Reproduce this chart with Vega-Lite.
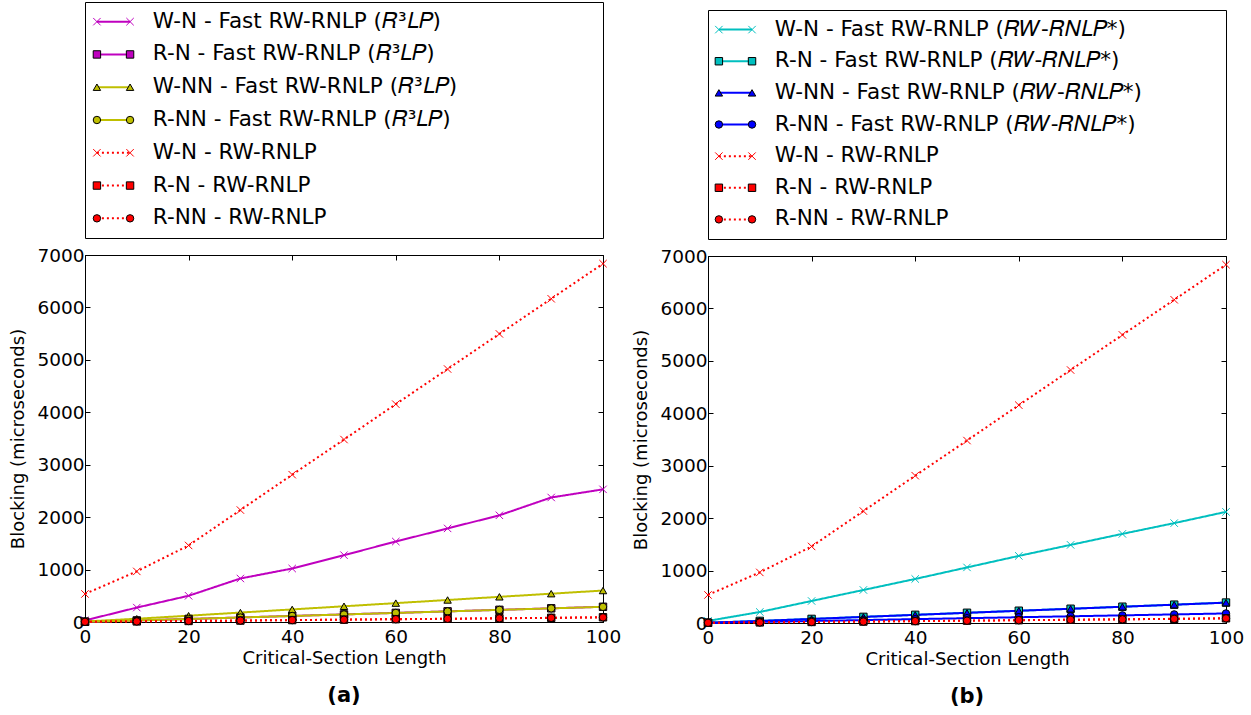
{
"$schema": "https://vega.github.io/schema/vega-lite/v6.json",
"padding": {"left": 9, "top": 1, "right": 0, "bottom": 0},
"config": {
  "font": "DejaVu Sans",
  "view": {"stroke": null},
  "axis": {"grid": false, "labelFont": "DejaVu Sans", "titleFont": "DejaVu Sans", "labelFontSize": 18.5, "titleFontSize": 18, "titleFontWeight": "normal", "labelColor": "#000", "titleColor": "#000", "domainColor": "#000", "tickColor": "#000", "tickSize": -5, "labelPadding": 6, "domainWidth": 1, "tickWidth": 1},
  "axisX": {"labelPadding": 10},
  "title": {"color": "#000", "font": "DejaVu Sans"}
},
"datasets": {
"a": [
{"series":"W-N - Fast RW-RNLP (𝑅³𝐿𝑃)","length":0,"blocking":30},{"series":"W-N - Fast RW-RNLP (𝑅³𝐿𝑃)","length":10,"blocking":275},{"series":"W-N - Fast RW-RNLP (𝑅³𝐿𝑃)","length":20,"blocking":500},{"series":"W-N - Fast RW-RNLP (𝑅³𝐿𝑃)","length":30,"blocking":830},{"series":"W-N - Fast RW-RNLP (𝑅³𝐿𝑃)","length":40,"blocking":1020},{"series":"W-N - Fast RW-RNLP (𝑅³𝐿𝑃)","length":50,"blocking":1275},{"series":"W-N - Fast RW-RNLP (𝑅³𝐿𝑃)","length":60,"blocking":1535},{"series":"W-N - Fast RW-RNLP (𝑅³𝐿𝑃)","length":70,"blocking":1785},{"series":"W-N - Fast RW-RNLP (𝑅³𝐿𝑃)","length":80,"blocking":2035},{"series":"W-N - Fast RW-RNLP (𝑅³𝐿𝑃)","length":90,"blocking":2375},{"series":"W-N - Fast RW-RNLP (𝑅³𝐿𝑃)","length":100,"blocking":2530},
{"series":"R-N - Fast RW-RNLP (𝑅³𝐿𝑃)","length":0,"blocking":5},{"series":"R-N - Fast RW-RNLP (𝑅³𝐿𝑃)","length":10,"blocking":30},{"series":"R-N - Fast RW-RNLP (𝑅³𝐿𝑃)","length":20,"blocking":58},{"series":"R-N - Fast RW-RNLP (𝑅³𝐿𝑃)","length":30,"blocking":87},{"series":"R-N - Fast RW-RNLP (𝑅³𝐿𝑃)","length":40,"blocking":116},{"series":"R-N - Fast RW-RNLP (𝑅³𝐿𝑃)","length":50,"blocking":145},{"series":"R-N - Fast RW-RNLP (𝑅³𝐿𝑃)","length":60,"blocking":174},{"series":"R-N - Fast RW-RNLP (𝑅³𝐿𝑃)","length":70,"blocking":203},{"series":"R-N - Fast RW-RNLP (𝑅³𝐿𝑃)","length":80,"blocking":232},{"series":"R-N - Fast RW-RNLP (𝑅³𝐿𝑃)","length":90,"blocking":261},{"series":"R-N - Fast RW-RNLP (𝑅³𝐿𝑃)","length":100,"blocking":290},
{"series":"W-NN - Fast RW-RNLP (𝑅³𝐿𝑃)","length":0,"blocking":10},{"series":"W-NN - Fast RW-RNLP (𝑅³𝐿𝑃)","length":10,"blocking":62},{"series":"W-NN - Fast RW-RNLP (𝑅³𝐿𝑃)","length":20,"blocking":120},{"series":"W-NN - Fast RW-RNLP (𝑅³𝐿𝑃)","length":30,"blocking":180},{"series":"W-NN - Fast RW-RNLP (𝑅³𝐿𝑃)","length":40,"blocking":240},{"series":"W-NN - Fast RW-RNLP (𝑅³𝐿𝑃)","length":50,"blocking":300},{"series":"W-NN - Fast RW-RNLP (𝑅³𝐿𝑃)","length":60,"blocking":360},{"series":"W-NN - Fast RW-RNLP (𝑅³𝐿𝑃)","length":70,"blocking":420},{"series":"W-NN - Fast RW-RNLP (𝑅³𝐿𝑃)","length":80,"blocking":480},{"series":"W-NN - Fast RW-RNLP (𝑅³𝐿𝑃)","length":90,"blocking":540},{"series":"W-NN - Fast RW-RNLP (𝑅³𝐿𝑃)","length":100,"blocking":600},
{"series":"R-NN - Fast RW-RNLP (𝑅³𝐿𝑃)","length":0,"blocking":4},{"series":"R-NN - Fast RW-RNLP (𝑅³𝐿𝑃)","length":10,"blocking":29},{"series":"R-NN - Fast RW-RNLP (𝑅³𝐿𝑃)","length":20,"blocking":57},{"series":"R-NN - Fast RW-RNLP (𝑅³𝐿𝑃)","length":30,"blocking":86},{"series":"R-NN - Fast RW-RNLP (𝑅³𝐿𝑃)","length":40,"blocking":115},{"series":"R-NN - Fast RW-RNLP (𝑅³𝐿𝑃)","length":50,"blocking":144},{"series":"R-NN - Fast RW-RNLP (𝑅³𝐿𝑃)","length":60,"blocking":173},{"series":"R-NN - Fast RW-RNLP (𝑅³𝐿𝑃)","length":70,"blocking":202},{"series":"R-NN - Fast RW-RNLP (𝑅³𝐿𝑃)","length":80,"blocking":231},{"series":"R-NN - Fast RW-RNLP (𝑅³𝐿𝑃)","length":90,"blocking":260},{"series":"R-NN - Fast RW-RNLP (𝑅³𝐿𝑃)","length":100,"blocking":289},
{"series":"W-N - RW-RNLP","length":0,"blocking":535},{"series":"W-N - RW-RNLP","length":10,"blocking":965},{"series":"W-N - RW-RNLP","length":20,"blocking":1460},{"series":"W-N - RW-RNLP","length":30,"blocking":2135},{"series":"W-N - RW-RNLP","length":40,"blocking":2810},{"series":"W-N - RW-RNLP","length":50,"blocking":3480},{"series":"W-N - RW-RNLP","length":60,"blocking":4155},{"series":"W-N - RW-RNLP","length":70,"blocking":4825},{"series":"W-N - RW-RNLP","length":80,"blocking":5495},{"series":"W-N - RW-RNLP","length":90,"blocking":6165},{"series":"W-N - RW-RNLP","length":100,"blocking":6835},
{"series":"R-N - RW-RNLP","length":0,"blocking":5},{"series":"R-N - RW-RNLP","length":10,"blocking":12},{"series":"R-N - RW-RNLP","length":20,"blocking":20},{"series":"R-N - RW-RNLP","length":30,"blocking":28},{"series":"R-N - RW-RNLP","length":40,"blocking":37},{"series":"R-N - RW-RNLP","length":50,"blocking":45},{"series":"R-N - RW-RNLP","length":60,"blocking":54},{"series":"R-N - RW-RNLP","length":70,"blocking":62},{"series":"R-N - RW-RNLP","length":80,"blocking":71},{"series":"R-N - RW-RNLP","length":90,"blocking":80},{"series":"R-N - RW-RNLP","length":100,"blocking":90},
{"series":"R-NN - RW-RNLP","length":0,"blocking":4},{"series":"R-NN - RW-RNLP","length":10,"blocking":11},{"series":"R-NN - RW-RNLP","length":20,"blocking":19},{"series":"R-NN - RW-RNLP","length":30,"blocking":27},{"series":"R-NN - RW-RNLP","length":40,"blocking":36},{"series":"R-NN - RW-RNLP","length":50,"blocking":44},{"series":"R-NN - RW-RNLP","length":60,"blocking":53},{"series":"R-NN - RW-RNLP","length":70,"blocking":61},{"series":"R-NN - RW-RNLP","length":80,"blocking":70},{"series":"R-NN - RW-RNLP","length":90,"blocking":79},{"series":"R-NN - RW-RNLP","length":100,"blocking":88}
],
"b": [
{"series":"W-N - Fast RW-RNLP (𝑅𝑊-𝑅𝑁𝐿𝑃*)","length":0,"blocking":40},{"series":"W-N - Fast RW-RNLP (𝑅𝑊-𝑅𝑁𝐿𝑃*)","length":10,"blocking":210},{"series":"W-N - Fast RW-RNLP (𝑅𝑊-𝑅𝑁𝐿𝑃*)","length":20,"blocking":420},{"series":"W-N - Fast RW-RNLP (𝑅𝑊-𝑅𝑁𝐿𝑃*)","length":30,"blocking":630},{"series":"W-N - Fast RW-RNLP (𝑅𝑊-𝑅𝑁𝐿𝑃*)","length":40,"blocking":840},{"series":"W-N - Fast RW-RNLP (𝑅𝑊-𝑅𝑁𝐿𝑃*)","length":50,"blocking":1060},{"series":"W-N - Fast RW-RNLP (𝑅𝑊-𝑅𝑁𝐿𝑃*)","length":60,"blocking":1280},{"series":"W-N - Fast RW-RNLP (𝑅𝑊-𝑅𝑁𝐿𝑃*)","length":70,"blocking":1490},{"series":"W-N - Fast RW-RNLP (𝑅𝑊-𝑅𝑁𝐿𝑃*)","length":80,"blocking":1700},{"series":"W-N - Fast RW-RNLP (𝑅𝑊-𝑅𝑁𝐿𝑃*)","length":90,"blocking":1905},{"series":"W-N - Fast RW-RNLP (𝑅𝑊-𝑅𝑁𝐿𝑃*)","length":100,"blocking":2120},
{"series":"R-N - Fast RW-RNLP (𝑅𝑊-𝑅𝑁𝐿𝑃*)","length":0,"blocking":5},{"series":"R-N - Fast RW-RNLP (𝑅𝑊-𝑅𝑁𝐿𝑃*)","length":10,"blocking":40},{"series":"R-N - Fast RW-RNLP (𝑅𝑊-𝑅𝑁𝐿𝑃*)","length":20,"blocking":78},{"series":"R-N - Fast RW-RNLP (𝑅𝑊-𝑅𝑁𝐿𝑃*)","length":30,"blocking":117},{"series":"R-N - Fast RW-RNLP (𝑅𝑊-𝑅𝑁𝐿𝑃*)","length":40,"blocking":156},{"series":"R-N - Fast RW-RNLP (𝑅𝑊-𝑅𝑁𝐿𝑃*)","length":50,"blocking":195},{"series":"R-N - Fast RW-RNLP (𝑅𝑊-𝑅𝑁𝐿𝑃*)","length":60,"blocking":234},{"series":"R-N - Fast RW-RNLP (𝑅𝑊-𝑅𝑁𝐿𝑃*)","length":70,"blocking":272},{"series":"R-N - Fast RW-RNLP (𝑅𝑊-𝑅𝑁𝐿𝑃*)","length":80,"blocking":311},{"series":"R-N - Fast RW-RNLP (𝑅𝑊-𝑅𝑁𝐿𝑃*)","length":90,"blocking":350},{"series":"R-N - Fast RW-RNLP (𝑅𝑊-𝑅𝑁𝐿𝑃*)","length":100,"blocking":390},
{"series":"W-NN - Fast RW-RNLP (𝑅𝑊-𝑅𝑁𝐿𝑃*)","length":0,"blocking":5},{"series":"W-NN - Fast RW-RNLP (𝑅𝑊-𝑅𝑁𝐿𝑃*)","length":10,"blocking":39},{"series":"W-NN - Fast RW-RNLP (𝑅𝑊-𝑅𝑁𝐿𝑃*)","length":20,"blocking":77},{"series":"W-NN - Fast RW-RNLP (𝑅𝑊-𝑅𝑁𝐿𝑃*)","length":30,"blocking":116},{"series":"W-NN - Fast RW-RNLP (𝑅𝑊-𝑅𝑁𝐿𝑃*)","length":40,"blocking":155},{"series":"W-NN - Fast RW-RNLP (𝑅𝑊-𝑅𝑁𝐿𝑃*)","length":50,"blocking":194},{"series":"W-NN - Fast RW-RNLP (𝑅𝑊-𝑅𝑁𝐿𝑃*)","length":60,"blocking":233},{"series":"W-NN - Fast RW-RNLP (𝑅𝑊-𝑅𝑁𝐿𝑃*)","length":70,"blocking":271},{"series":"W-NN - Fast RW-RNLP (𝑅𝑊-𝑅𝑁𝐿𝑃*)","length":80,"blocking":310},{"series":"W-NN - Fast RW-RNLP (𝑅𝑊-𝑅𝑁𝐿𝑃*)","length":90,"blocking":349},{"series":"W-NN - Fast RW-RNLP (𝑅𝑊-𝑅𝑁𝐿𝑃*)","length":100,"blocking":388},
{"series":"R-NN - Fast RW-RNLP (𝑅𝑊-𝑅𝑁𝐿𝑃*)","length":0,"blocking":3},{"series":"R-NN - Fast RW-RNLP (𝑅𝑊-𝑅𝑁𝐿𝑃*)","length":10,"blocking":20},{"series":"R-NN - Fast RW-RNLP (𝑅𝑊-𝑅𝑁𝐿𝑃*)","length":20,"blocking":38},{"series":"R-NN - Fast RW-RNLP (𝑅𝑊-𝑅𝑁𝐿𝑃*)","length":30,"blocking":56},{"series":"R-NN - Fast RW-RNLP (𝑅𝑊-𝑅𝑁𝐿𝑃*)","length":40,"blocking":74},{"series":"R-NN - Fast RW-RNLP (𝑅𝑊-𝑅𝑁𝐿𝑃*)","length":50,"blocking":92},{"series":"R-NN - Fast RW-RNLP (𝑅𝑊-𝑅𝑁𝐿𝑃*)","length":60,"blocking":110},{"series":"R-NN - Fast RW-RNLP (𝑅𝑊-𝑅𝑁𝐿𝑃*)","length":70,"blocking":128},{"series":"R-NN - Fast RW-RNLP (𝑅𝑊-𝑅𝑁𝐿𝑃*)","length":80,"blocking":146},{"series":"R-NN - Fast RW-RNLP (𝑅𝑊-𝑅𝑁𝐿𝑃*)","length":90,"blocking":164},{"series":"R-NN - Fast RW-RNLP (𝑅𝑊-𝑅𝑁𝐿𝑃*)","length":100,"blocking":182},
{"series":"W-N - RW-RNLP","length":0,"blocking":535},{"series":"W-N - RW-RNLP","length":10,"blocking":965},{"series":"W-N - RW-RNLP","length":20,"blocking":1460},{"series":"W-N - RW-RNLP","length":30,"blocking":2135},{"series":"W-N - RW-RNLP","length":40,"blocking":2810},{"series":"W-N - RW-RNLP","length":50,"blocking":3480},{"series":"W-N - RW-RNLP","length":60,"blocking":4155},{"series":"W-N - RW-RNLP","length":70,"blocking":4825},{"series":"W-N - RW-RNLP","length":80,"blocking":5495},{"series":"W-N - RW-RNLP","length":90,"blocking":6165},{"series":"W-N - RW-RNLP","length":100,"blocking":6835},
{"series":"R-N - RW-RNLP","length":0,"blocking":5},{"series":"R-N - RW-RNLP","length":10,"blocking":12},{"series":"R-N - RW-RNLP","length":20,"blocking":20},{"series":"R-N - RW-RNLP","length":30,"blocking":28},{"series":"R-N - RW-RNLP","length":40,"blocking":37},{"series":"R-N - RW-RNLP","length":50,"blocking":45},{"series":"R-N - RW-RNLP","length":60,"blocking":54},{"series":"R-N - RW-RNLP","length":70,"blocking":62},{"series":"R-N - RW-RNLP","length":80,"blocking":71},{"series":"R-N - RW-RNLP","length":90,"blocking":80},{"series":"R-N - RW-RNLP","length":100,"blocking":90},
{"series":"R-NN - RW-RNLP","length":0,"blocking":4},{"series":"R-NN - RW-RNLP","length":10,"blocking":11},{"series":"R-NN - RW-RNLP","length":20,"blocking":19},{"series":"R-NN - RW-RNLP","length":30,"blocking":27},{"series":"R-NN - RW-RNLP","length":40,"blocking":36},{"series":"R-NN - RW-RNLP","length":50,"blocking":44},{"series":"R-NN - RW-RNLP","length":60,"blocking":53},{"series":"R-NN - RW-RNLP","length":70,"blocking":61},{"series":"R-NN - RW-RNLP","length":80,"blocking":70},{"series":"R-NN - RW-RNLP","length":90,"blocking":79},{"series":"R-NN - RW-RNLP","length":100,"blocking":88}
]
},
"columns": 2,
"align": "none",
"spacing": 10,
"resolve": {"scale": {"x": "independent", "y": "independent", "fill": "independent", "stroke": "independent", "shape": "independent", "strokeDash": "independent", "color": "independent"}},
"concat": [
{
 "spacing": 6,
 "resolve": {"scale": {"x": "independent", "y": "independent", "fill": "independent", "stroke": "independent", "shape": "independent", "strokeDash": "independent", "color": "independent"}},
 "vconcat": [
  {
   "width": 518, "height": 236,
   "view": {"stroke": "#000", "strokeWidth": 1},
   "data": {"name": "a"},
   "transform": [{"aggregate": [{"op": "count", "as": "n"}], "groupby": ["series"]}],
   "encoding": {"y": {"field": "series", "type": "nominal", "axis": null, "scale": {"type": "point", "padding": 0.6, "domain": ["W-N - Fast RW-RNLP (𝑅³𝐿𝑃)", "R-N - Fast RW-RNLP (𝑅³𝐿𝑃)", "W-NN - Fast RW-RNLP (𝑅³𝐿𝑃)", "R-NN - Fast RW-RNLP (𝑅³𝐿𝑃)", "W-N - RW-RNLP", "R-N - RW-RNLP", "R-NN - RW-RNLP"]}}},
   "layer": [
    {"mark": {"type": "rule", "strokeWidth": 2},
     "encoding": {
      "x": {"datum": 2.3, "type": "quantitative", "axis": null, "scale": {"domain": [0, 100]}},
      "x2": {"datum": 8.7},
      "color": {"field": "series", "type": "nominal", "legend": null, "scale": {"domain": ["W-N - Fast RW-RNLP (𝑅³𝐿𝑃)", "R-N - Fast RW-RNLP (𝑅³𝐿𝑃)", "W-NN - Fast RW-RNLP (𝑅³𝐿𝑃)", "R-NN - Fast RW-RNLP (𝑅³𝐿𝑃)", "W-N - RW-RNLP", "R-N - RW-RNLP", "R-NN - RW-RNLP"], "range": ["#bf00bf", "#bf00bf", "#bfbf00", "#bfbf00", "#ff0000", "#ff0000", "#ff0000"]}},
      "strokeDash": {"field": "series", "type": "nominal", "legend": null, "scale": {"domain": ["W-N - Fast RW-RNLP (𝑅³𝐿𝑃)", "R-N - Fast RW-RNLP (𝑅³𝐿𝑃)", "W-NN - Fast RW-RNLP (𝑅³𝐿𝑃)", "R-NN - Fast RW-RNLP (𝑅³𝐿𝑃)", "W-N - RW-RNLP", "R-N - RW-RNLP", "R-NN - RW-RNLP"], "range": [[1, 0], [1, 0], [1, 0], [1, 0], [2, 3], [2, 3], [2, 3]]}}
     }},
    {"mark": {"type": "point", "filled": true, "size": 55, "strokeWidth": 1, "opacity": 1},
     "encoding": {
      "x": {"datum": 2.3, "type": "quantitative"},
      "fill": {"field": "series", "type": "nominal", "legend": null, "scale": {"domain": ["W-N - Fast RW-RNLP (𝑅³𝐿𝑃)", "R-N - Fast RW-RNLP (𝑅³𝐿𝑃)", "W-NN - Fast RW-RNLP (𝑅³𝐿𝑃)", "R-NN - Fast RW-RNLP (𝑅³𝐿𝑃)", "W-N - RW-RNLP", "R-N - RW-RNLP", "R-NN - RW-RNLP"], "range": ["#bf00bf", "#bf00bf", "#bfbf00", "#bfbf00", "#ff0000", "#ff0000", "#ff0000"]}},
      "stroke": {"field": "series", "type": "nominal", "legend": null, "scale": {"domain": ["W-N - Fast RW-RNLP (𝑅³𝐿𝑃)", "R-N - Fast RW-RNLP (𝑅³𝐿𝑃)", "W-NN - Fast RW-RNLP (𝑅³𝐿𝑃)", "R-NN - Fast RW-RNLP (𝑅³𝐿𝑃)", "W-N - RW-RNLP", "R-N - RW-RNLP", "R-NN - RW-RNLP"], "range": ["#bf00bf", "#000", "#000", "#000", "#ff0000", "#000", "#000"]}},
      "shape": {"field": "series", "type": "nominal", "legend": null, "scale": {"domain": ["W-N - Fast RW-RNLP (𝑅³𝐿𝑃)", "R-N - Fast RW-RNLP (𝑅³𝐿𝑃)", "W-NN - Fast RW-RNLP (𝑅³𝐿𝑃)", "R-NN - Fast RW-RNLP (𝑅³𝐿𝑃)", "W-N - RW-RNLP", "R-N - RW-RNLP", "R-NN - RW-RNLP"], "range": ["M-1,-1L1,1M-1,1L1,-1", "square", "triangle-up", "circle", "M-1,-1L1,1M-1,1L1,-1", "square", "circle"]}}
     }},
    {"mark": {"type": "point", "filled": true, "size": 55, "strokeWidth": 1, "opacity": 1},
     "encoding": {
      "x": {"datum": 8.7, "type": "quantitative"},
      "fill": {"field": "series", "type": "nominal", "legend": null},
      "stroke": {"field": "series", "type": "nominal", "legend": null},
      "shape": {"field": "series", "type": "nominal", "legend": null}
     }},
    {"mark": {"type": "text", "align": "left", "baseline": "middle", "fontSize": 21.5, "font": "DejaVu Sans", "color": "#000"},
     "encoding": {"x": {"datum": 13.1, "type": "quantitative"}, "text": {"field": "series"}}}
   ]
  },
  {
   "width": 518, "height": 367,
   "view": {"stroke": "#000", "strokeWidth": 1},
   "data": {"name": "a"},
   "title": {"text": "(a)", "orient": "bottom", "fontSize": 21, "fontWeight": "bold", "offset": 17, "anchor": "middle"},
   "resolve": {"axis": {"x": "independent", "y": "independent"}},
   "layer": [
    {"mark": {"type": "line", "strokeWidth": 2},
     "encoding": {
      "x": {"field": "length", "type": "quantitative", "scale": {"domain": [0, 100], "nice": false}, "axis": {"values": [0, 20, 40, 60, 80, 100], "labelFlush": false, "title": "Critical-Section Length", "titlePadding": 4}},
      "y": {"field": "blocking", "type": "quantitative", "scale": {"domain": [0, 7000], "nice": false}, "axis": {"values": [0, 1000, 2000, 3000, 4000, 5000, 6000, 7000], "format": "d", "title": "Blocking (microseconds)", "titlePadding": 9}},
      "color": {"field": "series", "type": "nominal", "legend": null, "scale": {"domain": ["W-N - Fast RW-RNLP (𝑅³𝐿𝑃)", "R-N - Fast RW-RNLP (𝑅³𝐿𝑃)", "W-NN - Fast RW-RNLP (𝑅³𝐿𝑃)", "R-NN - Fast RW-RNLP (𝑅³𝐿𝑃)", "W-N - RW-RNLP", "R-N - RW-RNLP", "R-NN - RW-RNLP"], "range": ["#bf00bf", "#bf00bf", "#bfbf00", "#bfbf00", "#ff0000", "#ff0000", "#ff0000"]}},
      "strokeDash": {"field": "series", "type": "nominal", "legend": null, "scale": {"domain": ["W-N - Fast RW-RNLP (𝑅³𝐿𝑃)", "R-N - Fast RW-RNLP (𝑅³𝐿𝑃)", "W-NN - Fast RW-RNLP (𝑅³𝐿𝑃)", "R-NN - Fast RW-RNLP (𝑅³𝐿𝑃)", "W-N - RW-RNLP", "R-N - RW-RNLP", "R-NN - RW-RNLP"], "range": [[1, 0], [1, 0], [1, 0], [1, 0], [2, 3], [2, 3], [2, 3]]}}
     }},
    {"mark": {"type": "point", "filled": true, "size": 55, "strokeWidth": 1, "opacity": 1},
     "encoding": {
      "x": {"field": "length", "type": "quantitative", "axis": {"orient": "top", "values": [0, 20, 40, 60, 80, 100], "labels": false, "title": null, "domain": false}},
      "y": {"field": "blocking", "type": "quantitative", "axis": {"orient": "right", "values": [0, 1000, 2000, 3000, 4000, 5000, 6000, 7000], "labels": false, "title": null, "domain": false}},
      "fill": {"field": "series", "type": "nominal", "legend": null, "scale": {"domain": ["W-N - Fast RW-RNLP (𝑅³𝐿𝑃)", "R-N - Fast RW-RNLP (𝑅³𝐿𝑃)", "W-NN - Fast RW-RNLP (𝑅³𝐿𝑃)", "R-NN - Fast RW-RNLP (𝑅³𝐿𝑃)", "W-N - RW-RNLP", "R-N - RW-RNLP", "R-NN - RW-RNLP"], "range": ["#bf00bf", "#bf00bf", "#bfbf00", "#bfbf00", "#ff0000", "#ff0000", "#ff0000"]}},
      "stroke": {"field": "series", "type": "nominal", "legend": null, "scale": {"domain": ["W-N - Fast RW-RNLP (𝑅³𝐿𝑃)", "R-N - Fast RW-RNLP (𝑅³𝐿𝑃)", "W-NN - Fast RW-RNLP (𝑅³𝐿𝑃)", "R-NN - Fast RW-RNLP (𝑅³𝐿𝑃)", "W-N - RW-RNLP", "R-N - RW-RNLP", "R-NN - RW-RNLP"], "range": ["#bf00bf", "#000", "#000", "#000", "#ff0000", "#000", "#000"]}},
      "shape": {"field": "series", "type": "nominal", "legend": null, "scale": {"domain": ["W-N - Fast RW-RNLP (𝑅³𝐿𝑃)", "R-N - Fast RW-RNLP (𝑅³𝐿𝑃)", "W-NN - Fast RW-RNLP (𝑅³𝐿𝑃)", "R-NN - Fast RW-RNLP (𝑅³𝐿𝑃)", "W-N - RW-RNLP", "R-N - RW-RNLP", "R-NN - RW-RNLP"], "range": ["M-1,-1L1,1M-1,1L1,-1", "square", "triangle-up", "circle", "M-1,-1L1,1M-1,1L1,-1", "square", "circle"]}}
     }}
   ]
  }
 ]
},
{
 "spacing": 6,
 "resolve": {"scale": {"x": "independent", "y": "independent", "fill": "independent", "stroke": "independent", "shape": "independent", "strokeDash": "independent", "color": "independent"}},
 "vconcat": [
  {
   "width": 518, "height": 1,
   "data": {"name": "b"},
   "mark": {"type": "rect", "opacity": 0},
   "encoding": {}
  },
  {
   "spacing": 6,
   "resolve": {"scale": {"x": "independent", "y": "independent", "fill": "independent", "stroke": "independent", "shape": "independent", "strokeDash": "independent", "color": "independent"}},
   "vconcat": [
  {
   "width": 518, "height": 229,
   "view": {"stroke": "#000", "strokeWidth": 1},
   "data": {"name": "b"},
   "transform": [{"aggregate": [{"op": "count", "as": "n"}], "groupby": ["series"]}],
   "encoding": {"y": {"field": "series", "type": "nominal", "axis": null, "scale": {"type": "point", "padding": 0.62, "domain": ["W-N - Fast RW-RNLP (𝑅𝑊-𝑅𝑁𝐿𝑃*)", "R-N - Fast RW-RNLP (𝑅𝑊-𝑅𝑁𝐿𝑃*)", "W-NN - Fast RW-RNLP (𝑅𝑊-𝑅𝑁𝐿𝑃*)", "R-NN - Fast RW-RNLP (𝑅𝑊-𝑅𝑁𝐿𝑃*)", "W-N - RW-RNLP", "R-N - RW-RNLP", "R-NN - RW-RNLP"]}}},
   "layer": [
    {"mark": {"type": "rule", "strokeWidth": 2},
     "encoding": {
      "x": {"datum": 2.1, "type": "quantitative", "axis": null, "scale": {"domain": [0, 100]}},
      "x2": {"datum": 8.5},
      "color": {"field": "series", "type": "nominal", "legend": null, "scale": {"domain": ["W-N - Fast RW-RNLP (𝑅𝑊-𝑅𝑁𝐿𝑃*)", "R-N - Fast RW-RNLP (𝑅𝑊-𝑅𝑁𝐿𝑃*)", "W-NN - Fast RW-RNLP (𝑅𝑊-𝑅𝑁𝐿𝑃*)", "R-NN - Fast RW-RNLP (𝑅𝑊-𝑅𝑁𝐿𝑃*)", "W-N - RW-RNLP", "R-N - RW-RNLP", "R-NN - RW-RNLP"], "range": ["#00bfbf", "#00bfbf", "#0000ff", "#0000ff", "#ff0000", "#ff0000", "#ff0000"]}},
      "strokeDash": {"field": "series", "type": "nominal", "legend": null, "scale": {"domain": ["W-N - Fast RW-RNLP (𝑅𝑊-𝑅𝑁𝐿𝑃*)", "R-N - Fast RW-RNLP (𝑅𝑊-𝑅𝑁𝐿𝑃*)", "W-NN - Fast RW-RNLP (𝑅𝑊-𝑅𝑁𝐿𝑃*)", "R-NN - Fast RW-RNLP (𝑅𝑊-𝑅𝑁𝐿𝑃*)", "W-N - RW-RNLP", "R-N - RW-RNLP", "R-NN - RW-RNLP"], "range": [[1, 0], [1, 0], [1, 0], [1, 0], [2, 3], [2, 3], [2, 3]]}}
     }},
    {"mark": {"type": "point", "filled": true, "size": 55, "strokeWidth": 1, "opacity": 1},
     "encoding": {
      "x": {"datum": 2.1, "type": "quantitative"},
      "fill": {"field": "series", "type": "nominal", "legend": null, "scale": {"domain": ["W-N - Fast RW-RNLP (𝑅𝑊-𝑅𝑁𝐿𝑃*)", "R-N - Fast RW-RNLP (𝑅𝑊-𝑅𝑁𝐿𝑃*)", "W-NN - Fast RW-RNLP (𝑅𝑊-𝑅𝑁𝐿𝑃*)", "R-NN - Fast RW-RNLP (𝑅𝑊-𝑅𝑁𝐿𝑃*)", "W-N - RW-RNLP", "R-N - RW-RNLP", "R-NN - RW-RNLP"], "range": ["#00bfbf", "#00bfbf", "#0000ff", "#0000ff", "#ff0000", "#ff0000", "#ff0000"]}},
      "stroke": {"field": "series", "type": "nominal", "legend": null, "scale": {"domain": ["W-N - Fast RW-RNLP (𝑅𝑊-𝑅𝑁𝐿𝑃*)", "R-N - Fast RW-RNLP (𝑅𝑊-𝑅𝑁𝐿𝑃*)", "W-NN - Fast RW-RNLP (𝑅𝑊-𝑅𝑁𝐿𝑃*)", "R-NN - Fast RW-RNLP (𝑅𝑊-𝑅𝑁𝐿𝑃*)", "W-N - RW-RNLP", "R-N - RW-RNLP", "R-NN - RW-RNLP"], "range": ["#00bfbf", "#000", "#000", "#000", "#ff0000", "#000", "#000"]}},
      "shape": {"field": "series", "type": "nominal", "legend": null, "scale": {"domain": ["W-N - Fast RW-RNLP (𝑅𝑊-𝑅𝑁𝐿𝑃*)", "R-N - Fast RW-RNLP (𝑅𝑊-𝑅𝑁𝐿𝑃*)", "W-NN - Fast RW-RNLP (𝑅𝑊-𝑅𝑁𝐿𝑃*)", "R-NN - Fast RW-RNLP (𝑅𝑊-𝑅𝑁𝐿𝑃*)", "W-N - RW-RNLP", "R-N - RW-RNLP", "R-NN - RW-RNLP"], "range": ["M-1,-1L1,1M-1,1L1,-1", "square", "triangle-up", "circle", "M-1,-1L1,1M-1,1L1,-1", "square", "circle"]}}
     }},
    {"mark": {"type": "point", "filled": true, "size": 55, "strokeWidth": 1, "opacity": 1},
     "encoding": {
      "x": {"datum": 8.5, "type": "quantitative"},
      "fill": {"field": "series", "type": "nominal", "legend": null},
      "stroke": {"field": "series", "type": "nominal", "legend": null},
      "shape": {"field": "series", "type": "nominal", "legend": null}
     }},
    {"mark": {"type": "text", "align": "left", "baseline": "middle", "fontSize": 21.5, "font": "DejaVu Sans", "color": "#000"},
     "encoding": {"x": {"datum": 12.9, "type": "quantitative"}, "text": {"field": "series"}}}
   ]
  },
  {
   "width": 518, "height": 367,
   "view": {"stroke": "#000", "strokeWidth": 1},
   "data": {"name": "b"},
   "title": {"text": "(b)", "orient": "bottom", "fontSize": 21, "fontWeight": "bold", "offset": 17, "anchor": "middle"},
   "resolve": {"axis": {"x": "independent", "y": "independent"}},
   "layer": [
    {"mark": {"type": "line", "strokeWidth": 2},
     "encoding": {
      "x": {"field": "length", "type": "quantitative", "scale": {"domain": [0, 100], "nice": false}, "axis": {"values": [0, 20, 40, 60, 80, 100], "labelFlush": false, "title": "Critical-Section Length", "titlePadding": 4}},
      "y": {"field": "blocking", "type": "quantitative", "scale": {"domain": [0, 7000], "nice": false}, "axis": {"values": [0, 1000, 2000, 3000, 4000, 5000, 6000, 7000], "format": "d", "title": "Blocking (microseconds)", "titlePadding": 9}},
      "color": {"field": "series", "type": "nominal", "legend": null, "scale": {"domain": ["W-N - Fast RW-RNLP (𝑅𝑊-𝑅𝑁𝐿𝑃*)", "R-N - Fast RW-RNLP (𝑅𝑊-𝑅𝑁𝐿𝑃*)", "W-NN - Fast RW-RNLP (𝑅𝑊-𝑅𝑁𝐿𝑃*)", "R-NN - Fast RW-RNLP (𝑅𝑊-𝑅𝑁𝐿𝑃*)", "W-N - RW-RNLP", "R-N - RW-RNLP", "R-NN - RW-RNLP"], "range": ["#00bfbf", "#00bfbf", "#0000ff", "#0000ff", "#ff0000", "#ff0000", "#ff0000"]}},
      "strokeDash": {"field": "series", "type": "nominal", "legend": null, "scale": {"domain": ["W-N - Fast RW-RNLP (𝑅𝑊-𝑅𝑁𝐿𝑃*)", "R-N - Fast RW-RNLP (𝑅𝑊-𝑅𝑁𝐿𝑃*)", "W-NN - Fast RW-RNLP (𝑅𝑊-𝑅𝑁𝐿𝑃*)", "R-NN - Fast RW-RNLP (𝑅𝑊-𝑅𝑁𝐿𝑃*)", "W-N - RW-RNLP", "R-N - RW-RNLP", "R-NN - RW-RNLP"], "range": [[1, 0], [1, 0], [1, 0], [1, 0], [2, 3], [2, 3], [2, 3]]}}
     }},
    {"mark": {"type": "point", "filled": true, "size": 55, "strokeWidth": 1, "opacity": 1},
     "encoding": {
      "x": {"field": "length", "type": "quantitative", "axis": {"orient": "top", "values": [0, 20, 40, 60, 80, 100], "labels": false, "title": null, "domain": false}},
      "y": {"field": "blocking", "type": "quantitative", "axis": {"orient": "right", "values": [0, 1000, 2000, 3000, 4000, 5000, 6000, 7000], "labels": false, "title": null, "domain": false}},
      "fill": {"field": "series", "type": "nominal", "legend": null, "scale": {"domain": ["W-N - Fast RW-RNLP (𝑅𝑊-𝑅𝑁𝐿𝑃*)", "R-N - Fast RW-RNLP (𝑅𝑊-𝑅𝑁𝐿𝑃*)", "W-NN - Fast RW-RNLP (𝑅𝑊-𝑅𝑁𝐿𝑃*)", "R-NN - Fast RW-RNLP (𝑅𝑊-𝑅𝑁𝐿𝑃*)", "W-N - RW-RNLP", "R-N - RW-RNLP", "R-NN - RW-RNLP"], "range": ["#00bfbf", "#00bfbf", "#0000ff", "#0000ff", "#ff0000", "#ff0000", "#ff0000"]}},
      "stroke": {"field": "series", "type": "nominal", "legend": null, "scale": {"domain": ["W-N - Fast RW-RNLP (𝑅𝑊-𝑅𝑁𝐿𝑃*)", "R-N - Fast RW-RNLP (𝑅𝑊-𝑅𝑁𝐿𝑃*)", "W-NN - Fast RW-RNLP (𝑅𝑊-𝑅𝑁𝐿𝑃*)", "R-NN - Fast RW-RNLP (𝑅𝑊-𝑅𝑁𝐿𝑃*)", "W-N - RW-RNLP", "R-N - RW-RNLP", "R-NN - RW-RNLP"], "range": ["#00bfbf", "#000", "#000", "#000", "#ff0000", "#000", "#000"]}},
      "shape": {"field": "series", "type": "nominal", "legend": null, "scale": {"domain": ["W-N - Fast RW-RNLP (𝑅𝑊-𝑅𝑁𝐿𝑃*)", "R-N - Fast RW-RNLP (𝑅𝑊-𝑅𝑁𝐿𝑃*)", "W-NN - Fast RW-RNLP (𝑅𝑊-𝑅𝑁𝐿𝑃*)", "R-NN - Fast RW-RNLP (𝑅𝑊-𝑅𝑁𝐿𝑃*)", "W-N - RW-RNLP", "R-N - RW-RNLP", "R-NN - RW-RNLP"], "range": ["M-1,-1L1,1M-1,1L1,-1", "square", "triangle-up", "circle", "M-1,-1L1,1M-1,1L1,-1", "square", "circle"]}}
     }}
   ]
  }
   ]
  }
 ]
}
]
}
